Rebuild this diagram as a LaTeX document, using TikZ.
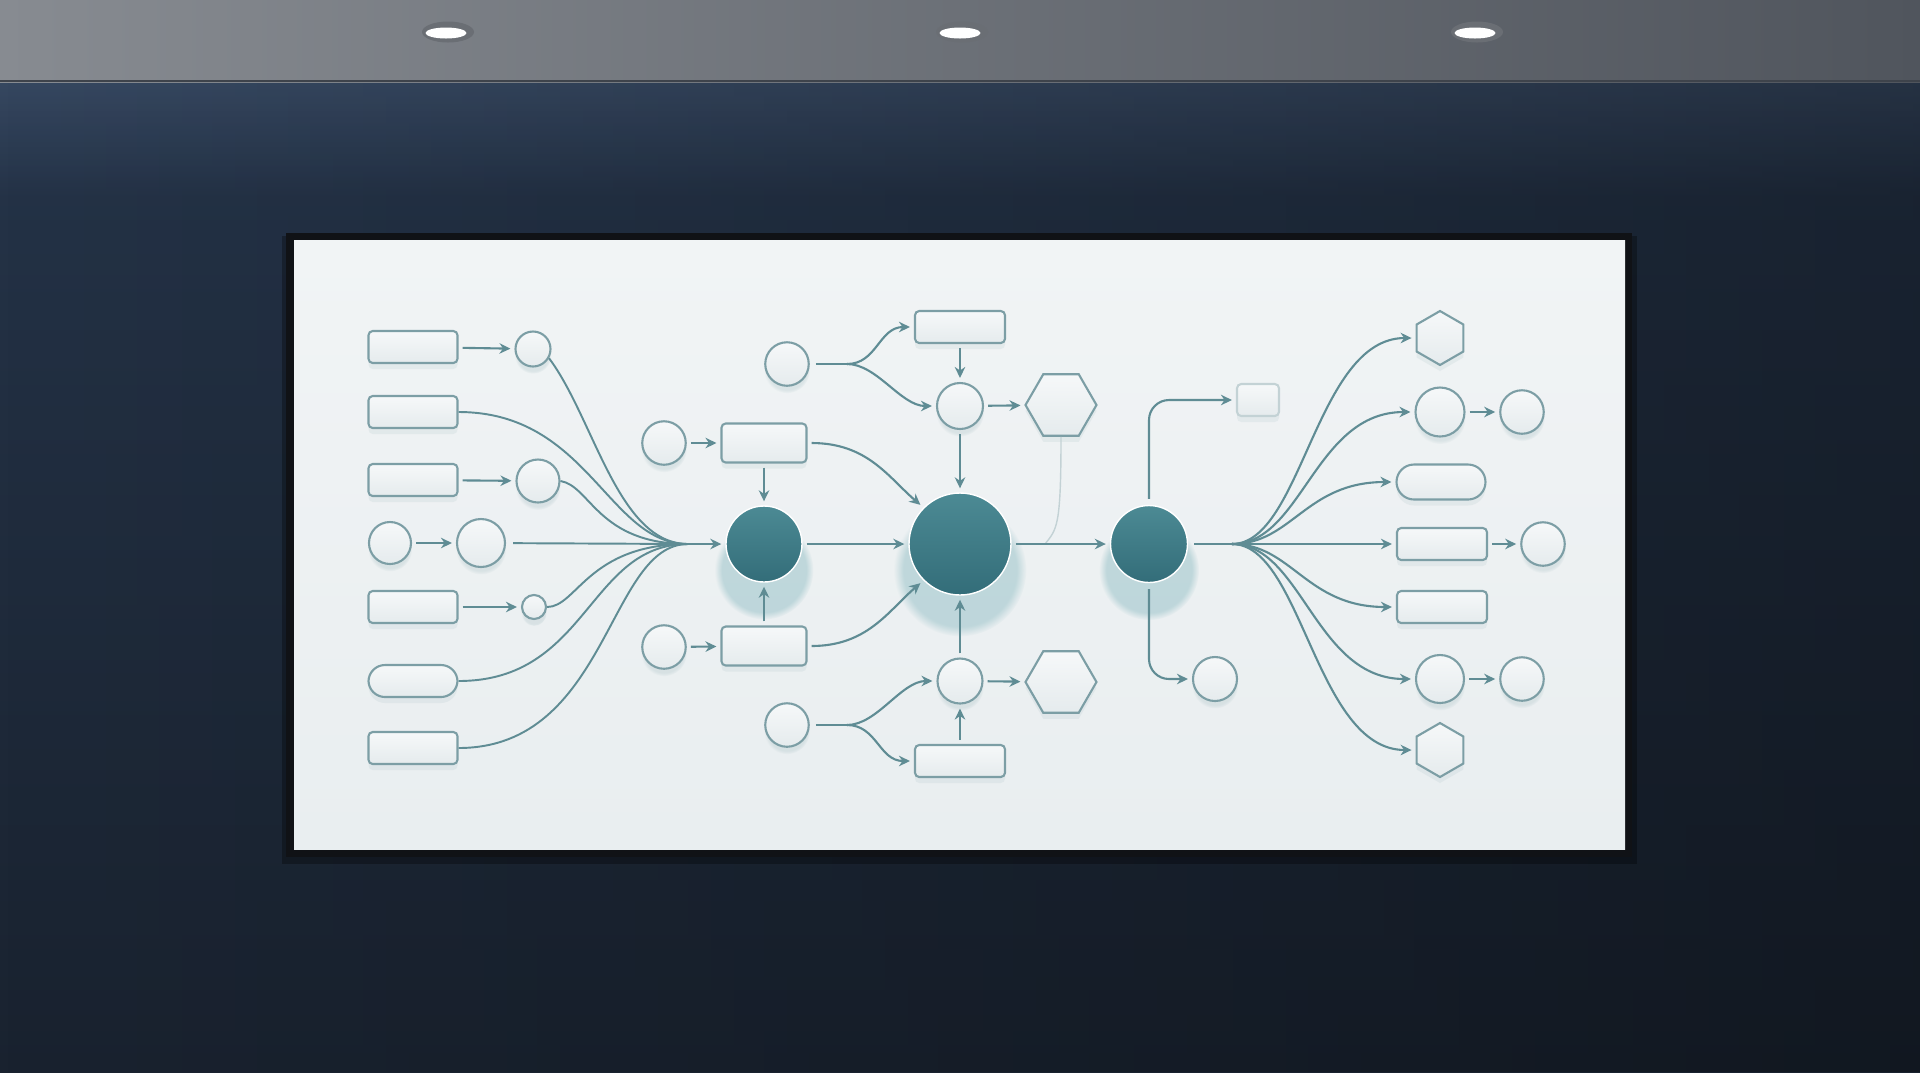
\documentclass[tikz,border=0pt]{standalone}
\usetikzlibrary{arrows.meta,shapes.geometric,shadows,fadings}

\definecolor{ceilL}{HTML}{878B91}
\definecolor{ceilR}{HTML}{50555D}
\definecolor{ceilEdge}{HTML}{3E434B}
\definecolor{lampRim}{HTML}{6A6E74}
\definecolor{wallTop}{HTML}{253449}
\definecolor{wallBot}{HTML}{19222F}
\definecolor{wallGlow}{HTML}{566C8C}
\definecolor{frameC}{HTML}{101216}
\definecolor{boardTop}{HTML}{F1F4F5}
\definecolor{boardBot}{HTML}{E9EEF0}
\definecolor{nodeTop}{HTML}{F6F8F9}
\definecolor{nodeBot}{HTML}{E5EBED}
\definecolor{nodeEdge}{HTML}{7C9EA5}
\definecolor{nodeShade}{HTML}{9DB8BD}
\definecolor{lineC}{HTML}{5F8C94}
\definecolor{faintC}{HTML}{C3D2D5}
\definecolor{hubTop}{HTML}{4C8A94}
\definecolor{hubBot}{HTML}{336D79}
\definecolor{hubGlow}{HTML}{6AA8B1}

\tikzfading[name=fadedown, top color=transparent!0, bottom color=transparent!100]
\tikzfading[name=faderight, left color=transparent!100, right color=transparent!0]

\tikzset{
	box/.style={draw=nodeEdge, line width=.6pt, rounded corners=1.2pt, top color=nodeTop, bottom color=nodeBot, inner sep=0pt, minimum width=8.9mm, minimum height=3.2mm, drop shadow={shadow xshift=0pt, shadow yshift=-.6mm, opacity=.15, fill=nodeShade}},
	pill/.style={box, rounded corners=1.65mm},
	dot/.style={circle, draw=nodeEdge, line width=.6pt, top color=nodeTop, bottom color=nodeBot, inner sep=0pt, minimum size=#1, circular drop shadow={shadow xshift=0pt, shadow yshift=-.6mm, shadow scale=1.05, opacity=.25, fill=nodeShade}},
	hexa/.style={regular polygon, regular polygon sides=6, draw=nodeEdge, line width=.6pt, top color=nodeTop, bottom color=nodeBot, inner sep=0pt, minimum size=#1, drop shadow={shadow xshift=0pt, shadow yshift=-.6mm, opacity=.15, fill=nodeShade}},
	hub/.style={circle, inner sep=0pt, minimum size=#1, draw=white, line width=.4pt, top color=hubTop, bottom color=hubBot, circular drop shadow={shadow xshift=0pt, shadow yshift=-2mm, shadow scale=1.3, opacity=.35, fill=hubGlow}},
	link/.style={draw=lineC, line width=.6pt, -{Stealth[length=1.1mm, width=1.05mm]}, shorten >=.4mm, shorten <=.4mm},
	wire/.style={draw=lineC, line width=.55pt},
}

\begin{document}
\begin{tikzpicture}[x=0.1mm,y=-0.1mm]
	\useasboundingbox (0,0) rectangle (1920,1072);
	
	\shade[top color=wallTop, bottom color=wallBot] (0,82) rectangle (1920,1072);
	\fill[wallGlow, opacity=.35, path fading=fadedown] (0,82) rectangle (1920,200);
	\fill[black, opacity=.3, path fading=faderight] (0,82) rectangle (1920,1072);
	\shade[left color=ceilL, right color=ceilR] (0,0) rectangle (1920,82);
	\draw[ceilEdge, line width=.8pt] (0,81) -- (1920,81);
	\foreach \lx in {446,960,1475} {
		\fill[lampRim] (\lx+2,32) ellipse (2.6mm and 1.05mm);
		\fill[white] (\lx,33) ellipse (2.05mm and .55mm);
	}
	
	\fill[black, opacity=.3] (282,236) rectangle (1637,864);
	\fill[frameC] (286,233) rectangle (1632,857);
	\shade[top color=boardTop, bottom color=boardBot] (294,240) rectangle (1625,849);
	
	\node[box] (in1) at (413,347) {};
	\node[box] (in2) at (413,412) {};
	\node[box] (in3) at (413,480) {};
	\node[dot=4.2mm] (s4) at (390,543) {};
	\node[box] (in5) at (413,607) {};
	\node[pill] (in6) at (413,681) {};
	\node[box] (in7) at (413,748) {};
	
	\node[dot=3.5mm] (d1) at (533,349) {};
	\node[dot=4.3mm] (d3) at (538,481) {};
	\node[dot=4.8mm] (d4) at (481,543) {};
	\node[dot=2.4mm] (d5) at (534,607) {};
	
	\node[hub=7.6mm] (hubA) at (764,544) {};
	\node[hub=10.2mm] (hubB) at (960,544) {};
	\node[hub=7.7mm] (hubC) at (1149,544) {};
	
	\node[box, minimum width=8.5mm, minimum height=3.9mm] (qA) at (764,443) {};
	\node[box, minimum width=8.5mm, minimum height=3.9mm] (qB) at (764,646) {};
	\node[dot=4.35mm] (pA) at (664,443) {};
	\node[dot=4.35mm] (pB) at (664,647) {};
	\node[dot=4.35mm] (tA) at (787,364) {};
	\node[dot=4.35mm] (tB) at (787,725) {};
	
	\node[box, minimum width=9mm] (upR) at (960,327) {};
	\node[dot=4.6mm] (upC) at (960,406) {};
	\node[hexa=7.1mm] (upH) at (1061,405) {};
	\node[box, minimum width=9mm] (dnR) at (960,761) {};
	\node[dot=4.5mm] (dnC) at (960,681) {};
	\node[hexa=7.1mm] (dnH) at (1061,682) {};
	
	\node[box, minimum width=4.2mm, draw=faintC] (tiny) at (1258,400) {};
	\node[dot=4.4mm] (lo) at (1215,679) {};
	
	\node[hexa=5.4mm, shape border rotate=30] (oH1) at (1440,338) {};
	\node[dot=4.9mm] (oC1) at (1440,412) {};
	\node[dot=4.35mm] (oC2) at (1522,412) {};
	\node[pill, minimum height=3.5mm, rounded corners=1.75mm] (oP) at (1441,482) {};
	\node[box, minimum width=9mm] (oR1) at (1442,544) {};
	\node[dot=4.35mm] (oC3) at (1543,544) {};
	\node[box, minimum width=9mm] (oR2) at (1442,607) {};
	\node[dot=4.8mm] (oC4) at (1440,679) {};
	\node[dot=4.35mm] (oC5) at (1522,679) {};
	\node[hexa=5.4mm, shape border rotate=30] (oH2) at (1440,750) {};
	
	\coordinate (lmerge) at (688,544);
	\coordinate (rmerge) at (1232,544);
	\coordinate (forkU) at (847,364);
	\coordinate (forkD) at (847,725);
	\coordinate (jn) at (1045,544);
	
	\draw[link] (in1) -- (d1);
	\draw[link] (in3) -- (d3);
	\draw[link] (s4) -- (d4);
	\draw[link] (in5) -- (d5);
	
	\draw[wire] (d1.-30) .. controls +(45,60) and +(-70,0) .. (lmerge);
	\draw[wire] (in2.east) .. controls +(130,0) and +(-80,0) .. (lmerge);
	\draw[wire] (d3.east) .. controls +(30,5) and +(-90,0) .. (lmerge);
	\draw[wire, shorten <=.7mm] (d4) -- (lmerge);
	\draw[wire] (d5.east) .. controls +(30,0) and +(-100,0) .. (lmerge);
	\draw[wire] (in6.east) .. controls +(130,0) and +(-100,0) .. (lmerge);
	\draw[wire] (in7.east) .. controls +(150,0) and +(-80,0) .. (lmerge);
	\draw[link, shorten <=0pt] (lmerge) -- (hubA);
	
	\draw[link] (pA) -- (qA);
	\draw[link] (pB) -- (qB);
	\draw[link] (qA) -- (hubA);
	\draw[link] (qB) -- (hubA);
	\draw[link] (qA.east) .. controls +(60,0) and +(-35,-30) .. (hubB.135);
	\draw[link] (qB.east) .. controls +(60,0) and +(-35,30) .. (hubB.225);
	
	\draw[wire, shorten <=.6mm] (tA) -- (forkU);
	\draw[link, shorten <=0pt] (forkU) .. controls +(30,0) and +(-35,0) .. (upR.west);
	\draw[link, shorten <=0pt] (forkU) .. controls +(30,0) and +(-35,0) .. (upC.west);
	\draw[link] (upR) -- (upC);
	\draw[link] (upC) -- (upH);
	\draw[link] (upC) -- (hubB);
	
	\draw[wire, shorten <=.6mm] (tB) -- (forkD);
	\draw[link, shorten <=0pt] (forkD) .. controls +(30,0) and +(-35,0) .. (dnC.west);
	\draw[link, shorten <=0pt] (forkD) .. controls +(30,0) and +(-35,0) .. (dnR.west);
	\draw[link] (dnR) -- (dnC);
	\draw[link] (dnC) -- (dnH);
	\draw[link] (dnC) -- (hubB);
	
	\draw[faintC, line width=.4pt] (upH.south) .. controls +(0,90) and +(12,-15) .. (jn);
	
	\draw[link] (hubA) -- (hubB);
	\draw[link] (hubB) -- (hubC);
	
	\draw[link, rounded corners=2mm, shorten <=.6mm] (hubC.north) |- (tiny.west);
	\draw[link, rounded corners=2mm, shorten <=.6mm] (hubC.south) |- (lo.west);
	
	\draw[wire, shorten <=.6mm] (hubC) -- (rmerge);
	\draw[link, shorten <=0pt] (rmerge) .. controls +(70,0) and +(-100,0) .. (oH1.west);
	\draw[link, shorten <=0pt] (rmerge) .. controls +(70,0) and +(-100,0) .. (oC1.west);
	\draw[link, shorten <=0pt] (rmerge) .. controls +(60,0) and +(-90,0) .. (oP.west);
	\draw[link, shorten <=0pt] (rmerge) -- (oR1);
	\draw[link, shorten <=0pt] (rmerge) .. controls +(60,0) and +(-90,0) .. (oR2.west);
	\draw[link, shorten <=0pt] (rmerge) .. controls +(70,0) and +(-100,0) .. (oC4.west);
	\draw[link, shorten <=0pt] (rmerge) .. controls +(70,0) and +(-100,0) .. (oH2.west);
	
	\draw[link] (oC1) -- (oC2);
	\draw[link] (oR1) -- (oC3);
	\draw[link] (oC4) -- (oC5);
\end{tikzpicture}
\end{document}
